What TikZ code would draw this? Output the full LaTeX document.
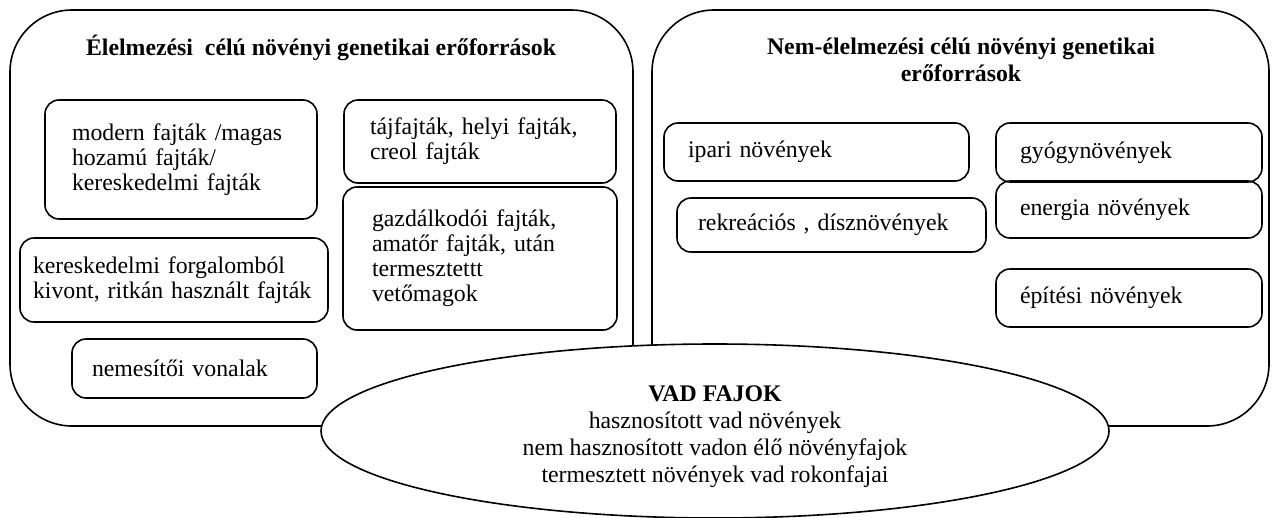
\documentclass[tikz,border=0pt]{standalone}
\usepackage{fontspec}
\setmainfont{Liberation Serif}
\usetikzlibrary{shapes.geometric}
\tikzset{
  txt/.style={font=\fontsize{23.8pt}{25pt}\selectfont},
  titletxt/.style={font=\fontsize{23.8pt}{27pt}\selectfont\bfseries},
  panel/.style={draw, line width=1.6pt, rounded corners=62pt, inner sep=0pt},
  itembox/.style={draw, line width=1.6pt, rounded corners=14pt, align=left, inner ysep=0pt, txt},
}
\begin{document}
\begin{tikzpicture}[x=1pt,y=-1pt]
\useasboundingbox (0,0) rectangle (1272,517);
% panels
\node[panel, minimum width=623pt, minimum height=416pt] (food) at (321.5,218) {};
\node[panel, minimum width=617pt, minimum height=416pt] (nonfood) at (960.5,218) {};
% titles
\node[titletxt, anchor=base, inner sep=0pt] (foodtitle) at (321,55) {Élelmezési\ \ célú növényi genetikai erőforrások};
\node[titletxt, align=center, anchor=north, inner sep=0pt] (nontitle) at (961,38) {Nem-élelmezési célú növényi genetikai\\erőforrások};
% left items
\node[itembox, minimum width=272pt, minimum height=119pt, inner xsep=27pt, text width=218pt] (modern) at (181,159.5) {modern fajták /magas\\hozamú fajták/\\kereskedelmi fajták};
\node[itembox, minimum width=308pt, minimum height=84pt, inner xsep=13pt, text width=282pt] (keresk) at (174,280) {kereskedelmi forgalomból\\kivont, ritkán használt fajták};
\node[itembox, minimum width=272pt, minimum height=83pt, inner xsep=26pt, text width=220pt] (taj) at (480,141.5) {tájfajták, helyi fajták,\\creol fajták};
\node[itembox, minimum width=274pt, minimum height=143pt, inner xsep=29pt, text width=216pt] (gazd) at (480,258.5) {gazdálkodói fajták,\\amatőr fajták, után\\termesztettt\\vetőmagok};
\node[itembox, minimum width=245pt, minimum height=59pt, inner xsep=20pt, text width=205pt] (nemes) at (194.5,368.5) {nemesítői vonalak};
% right items
\node[itembox, minimum width=305pt, minimum height=58pt, inner xsep=24pt, text width=257pt] (ipari) at (816.5,152) {ipari növények};
\node[itembox, minimum width=309pt, minimum height=54pt, inner xsep=21pt, text width=267pt] (rekre) at (831.5,225) {rekreációs , dísznövények};
\node[itembox, minimum width=266pt, minimum height=59pt, inner xsep=24pt, text width=218pt] (gyogy) at (1129,152.5) {gyógynövények};
\node[itembox, minimum width=266pt, minimum height=57pt, inner xsep=24pt, text width=218pt] (energia) at (1129,209.5) {energia növények};
\node[itembox, minimum width=266pt, minimum height=58pt, inner xsep=24pt, text width=218pt] (epit) at (1129,298) {építési növények};
% wild species ellipse
\node[draw, ellipse, fill=white, line width=1.6pt, minimum width=788pt, minimum height=174pt, inner sep=0pt] (wild) at (715,431) {};
\node[font=\fontsize{23.8pt}{27pt}\selectfont, align=center, inner sep=0pt] (wildtext) at (715,437) {\textbf{VAD FAJOK}\\hasznosított vad növények\\nem hasznosított vadon élő növényfajok\\termesztett növények vad rokonfajai};
\end{tikzpicture}
\end{document}
